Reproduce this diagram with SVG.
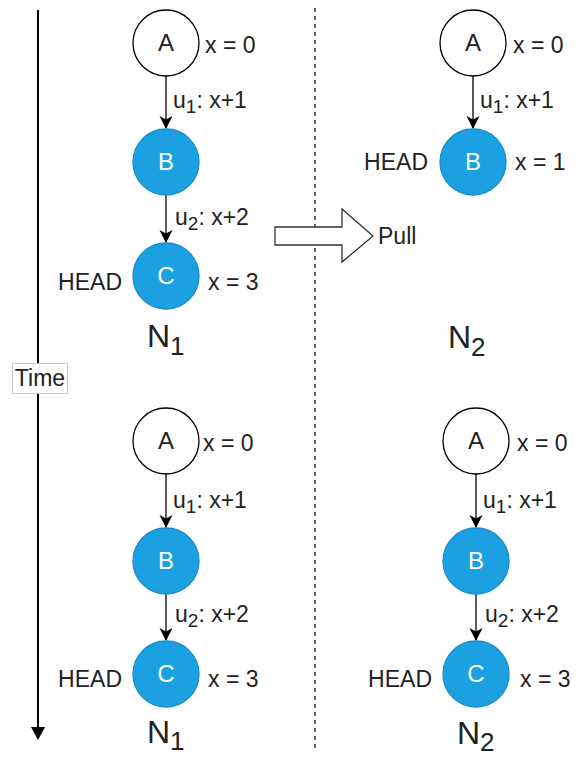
<svg xmlns="http://www.w3.org/2000/svg" width="578" height="758" viewBox="0 0 578 758">
<style>
text{font-family:"Liberation Sans",Arial,sans-serif;fill:#222;}
.lbl{font-size:23px;}
.sub{font-size:19px;}
.big{font-size:32px;}
.bigsub{font-size:26px;}
.ni{font-size:24px;text-anchor:middle;}
.w{fill:#fff;stroke:#000;stroke-width:1.3;}
.b{fill:#1ba1e2;stroke:#1a8ccc;stroke-width:1.3;}
.wt{fill:#fff;}
.edge{stroke:#000;stroke-width:1.3;fill:none;marker-end:url(#ah);}
</style>
<defs>
<marker id="ah" markerWidth="14" markerHeight="14" refX="12" refY="6.5" orient="auto" markerUnits="userSpaceOnUse" viewBox="0 0 14 13">
<path d="M0,0 L13,6.5 L0,13 L3.5,6.5 Z" fill="#000"/>
</marker>
</defs>
<rect width="578" height="758" fill="#fff"/>

<g id="timeline">
<line x1="38" y1="10" x2="38" y2="730" stroke="#000" stroke-width="2"/>
<polygon points="31,727 45,727 38,740" fill="#000"/>
<rect x="12.5" y="363.5" width="55" height="30" fill="#fff" stroke="#c8c8c8"/>
<text class="lbl" x="40" y="386" text-anchor="middle">Time</text>
</g>

<g id="divider">
<line x1="315" y1="8" x2="315" y2="748" stroke="#000" stroke-width="1.2" stroke-dasharray="4 4"/>
</g>

<g id="pull">
<polygon points="275,227 342,227 342,209 373,236 342,262 342,245 275,245" fill="#fff" stroke="#333" stroke-width="1.3"/>
<text class="lbl" x="378" y="244">Pull</text>
</g>

<g id="connectors">
<line class="edge" x1="166" y1="76" x2="166" y2="128"/>
<line class="edge" x1="166" y1="195" x2="166" y2="242"/>
<line class="edge" x1="473" y1="76" x2="473" y2="128"/>
<line class="edge" x1="166" y1="474" x2="166" y2="527"/>
<line class="edge" x1="166" y1="594" x2="166" y2="640"/>
<line class="edge" x1="476" y1="474" x2="476" y2="527"/>
<line class="edge" x1="476" y1="594" x2="476" y2="640"/>
</g>

<!-- Top-left N1 -->
<g id="tl-A"><circle class="w" cx="166" cy="43" r="33"/><text class="ni" x="166" y="51">A</text></g>
<g id="tl-B"><circle class="b" cx="166" cy="162" r="33"/><text class="ni wt" x="166" y="170">B</text></g>
<g id="tl-C"><circle class="b" cx="166" cy="276" r="33"/><text class="ni wt" x="166" y="284">C</text></g>
<g id="tl-labels">
<text class="lbl" x="205" y="53">x = 0</text>
<text class="lbl" x="173" y="108">u<tspan class="sub" dy="5">1</tspan><tspan dy="-5">: x+1</tspan></text>
<text class="lbl" x="175" y="225">u<tspan class="sub" dy="5">2</tspan><tspan dy="-5">: x+2</tspan></text>
<text class="lbl" x="122" y="290" text-anchor="end">HEAD</text>
<text class="lbl" x="208" y="290">x = 3</text>
<text class="big" x="147" y="347">N<tspan class="bigsub" dy="8">1</tspan></text>
</g>

<!-- Top-right N2 -->
<g id="tr-A"><circle class="w" cx="473" cy="43" r="33"/><text class="ni" x="473" y="51">A</text></g>
<g id="tr-B"><circle class="b" cx="473" cy="162" r="33"/><text class="ni wt" x="473" y="170">B</text></g>
<g id="tr-labels">
<text class="lbl" x="513" y="53">x = 0</text>
<text class="lbl" x="480" y="108">u<tspan class="sub" dy="5">1</tspan><tspan dy="-5">: x+1</tspan></text>
<text class="lbl" x="428" y="170" text-anchor="end">HEAD</text>
<text class="lbl" x="515" y="170">x = 1</text>
<text class="big" x="448" y="348">N<tspan class="bigsub" dy="8">2</tspan></text>
</g>

<!-- Bottom-left N1 -->
<g id="bl-A"><circle class="w" cx="166" cy="441" r="33"/><text class="ni" x="166" y="449">A</text></g>
<g id="bl-B"><circle class="b" cx="166" cy="561" r="33"/><text class="ni wt" x="166" y="569">B</text></g>
<g id="bl-C"><circle class="b" cx="166" cy="674" r="33"/><text class="ni wt" x="166" y="682">C</text></g>
<g id="bl-labels">
<text class="lbl" x="203" y="451">x = 0</text>
<text class="lbl" x="173" y="508">u<tspan class="sub" dy="5">1</tspan><tspan dy="-5">: x+1</tspan></text>
<text class="lbl" x="175" y="622">u<tspan class="sub" dy="5">2</tspan><tspan dy="-5">: x+2</tspan></text>
<text class="lbl" x="122" y="687" text-anchor="end">HEAD</text>
<text class="lbl" x="208" y="687">x = 3</text>
<text class="big" x="147" y="743">N<tspan class="bigsub" dy="7">1</tspan></text>
</g>

<!-- Bottom-right N2 -->
<g id="br-A"><circle class="w" cx="476" cy="441" r="33"/><text class="ni" x="476" y="449">A</text></g>
<g id="br-B"><circle class="b" cx="476" cy="561" r="33"/><text class="ni wt" x="476" y="569">B</text></g>
<g id="br-C"><circle class="b" cx="476" cy="674" r="33"/><text class="ni wt" x="476" y="682">C</text></g>
<g id="br-labels">
<text class="lbl" x="517" y="451">x = 0</text>
<text class="lbl" x="483" y="508">u<tspan class="sub" dy="5">1</tspan><tspan dy="-5">: x+1</tspan></text>
<text class="lbl" x="485" y="622">u<tspan class="sub" dy="5">2</tspan><tspan dy="-5">: x+2</tspan></text>
<text class="lbl" x="432" y="687" text-anchor="end">HEAD</text>
<text class="lbl" x="520" y="687">x = 3</text>
<text class="big" x="457" y="744">N<tspan class="bigsub" dy="7">2</tspan></text>
</g>
</svg>
